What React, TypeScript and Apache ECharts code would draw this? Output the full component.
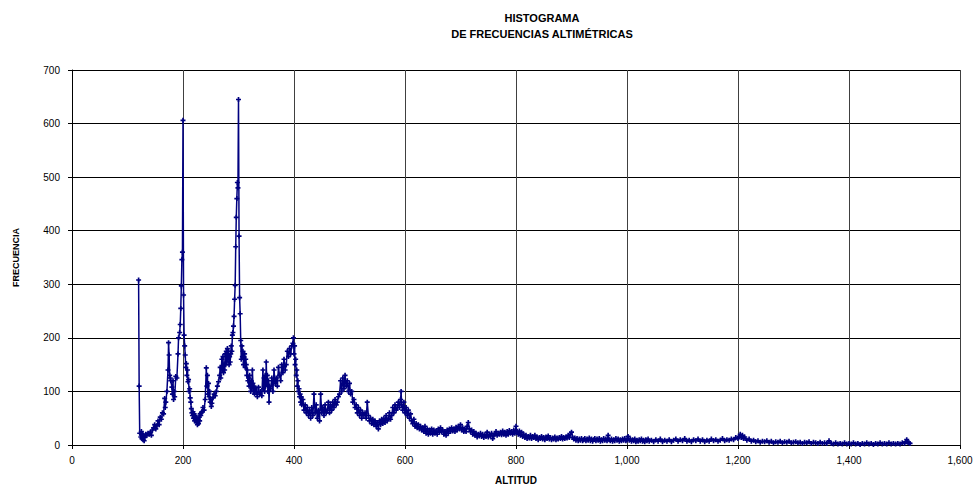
import React, { useEffect, useRef } from "react";
import * as echarts from "echarts";

// [altitud, frecuencia] pairs
const lowStart: [number, number][] = [
  [120, 308], [121, 110], [122, 22], [124, 15], [125, 25], [126, 12], [127, 20], [128, 10], [129, 18], [130, 8],
  [131, 14], [133, 20], [135, 18], [137, 22], [139, 20], [141, 24], [143, 18], [145, 28], [147, 32], [149, 38],
  [151, 30], [153, 36], [155, 45], [157, 38], [159, 52], [161, 48], [163, 60], [165, 58], [167, 87], [168, 70],
  [169, 80], [171, 100], [173, 140], [174, 191], [175, 168], [176, 130], [177, 125], [178, 120], [180, 108], [181, 95],
  [182, 120], [183, 85], [184, 100], [185, 90], [187, 128], [189, 125], [191, 170], [192, 200], [194, 210], [195, 225],
];

const peak200: [number, number][] = [
  [196, 255], [197, 297], [198, 346], [199, 360], [200, 606], [201, 280], [202, 205], [203, 185], [204, 168], [205, 145],
  [206, 152], [207, 130], [208, 140], [209, 118], [210, 122], [211, 100], [212, 105], [213, 88], [214, 80], [215, 68],
  [216, 60], [217, 55], [218, 62], [219, 50], [220, 58], [221, 45], [222, 55], [223, 48], [224, 42], [225, 50],
  [226, 38], [227, 48], [228, 40], [229, 52], [230, 45], [231, 58], [232, 55], [233, 60], [234, 62], [236, 70],
  [238, 65], [240, 85], [242, 144], [243, 110], [244, 130], [245, 95], [246, 115], [247, 90], [248, 100], [249, 80],
  [250, 85], [251, 72], [252, 78], [254, 88], [256, 95], [258, 92], [260, 100], [262, 110], [264, 118],
];

const peak300: [number, number][] = [
  [266, 130], [267, 145], [268, 125], [270, 160], [271, 140], [272, 165], [273, 135], [274, 150], [275, 140], [276, 170],
  [277, 150], [278, 175], [279, 155], [280, 180], [281, 160], [282, 175], [283, 150], [284, 165], [285, 155], [286, 170],
  [287, 185], [288, 175], [289, 205], [290, 210], [291, 222], [292, 240], [293, 272], [294, 298], [295, 370], [296, 425],
  [297, 460], [298, 490], [299, 480], [300, 645], [301, 390], [302, 275], [303, 245], [304, 195], [305, 160], [306, 185],
  [307, 165], [308, 175], [309, 150], [310, 165],
];

const range300to400: [number, number][] = [
  [311, 170], [312, 145], [313, 160], [314, 150], [315, 130], [316, 140], [317, 120], [318, 125], [319, 110], [320, 130],
  [321, 115], [322, 100], [323, 120], [324, 105], [325, 140], [326, 115], [327, 100], [328, 110], [329, 95], [330, 105],
  [332, 100], [334, 90], [336, 108], [338, 95], [340, 100], [342, 92], [344, 140], [345, 105], [346, 125], [347, 100],
  [348, 130], [349, 110], [350, 155], [351, 115], [352, 130], [353, 100], [354, 120], [355, 80], [356, 110], [358, 105],
  [360, 125], [362, 100], [364, 140], [366, 115], [368, 125], [370, 110], [372, 145], [374, 130], [376, 120], [378, 150],
  [380, 135], [382, 160], [384, 140], [386, 150], [388, 175], [390, 165], [392, 180], [394, 170], [396, 185], [398, 190],
  [399, 200], [400, 170],
];

const range400to632: [number, number][] = [
  [401, 185], [402, 150], [403, 160], [404, 130], [405, 140], [406, 110], [407, 120], [408, 100], [409, 105], [410, 90],
  [411, 95], [412, 80], [413, 90], [414, 75], [416, 85], [418, 65], [420, 75], [422, 60], [424, 70], [426, 55],
  [428, 65], [430, 50], [432, 70], [434, 55], [436, 95], [438, 60], [440, 75], [442, 50], [444, 65], [446, 45],
  [448, 95], [450, 60], [452, 70], [454, 55], [456, 75], [458, 60], [460, 65], [462, 80], [464, 60], [466, 75],
  [468, 65], [470, 80], [472, 70], [474, 85], [476, 75], [478, 80], [480, 90], [482, 95], [484, 120], [486, 100],
  [488, 125], [490, 105], [492, 130], [494, 110], [496, 120], [498, 100], [500, 115], [502, 95], [504, 100], [506, 80],
  [508, 85], [510, 70], [512, 75], [514, 60], [516, 70], [518, 55], [520, 65], [522, 50], [524, 60], [526, 55],
  [528, 60], [530, 50], [532, 80], [534, 55], [536, 45], [538, 50], [540, 40], [542, 48], [544, 38], [546, 45],
  [548, 35], [550, 42], [552, 30], [554, 45], [556, 38], [558, 48], [560, 40], [562, 50], [564, 42], [566, 55],
  [568, 45], [570, 50], [572, 60], [574, 48], [576, 55], [578, 70], [580, 60], [582, 75], [584, 65], [586, 70],
  [588, 80], [590, 70], [592, 85], [593, 100], [594, 75], [596, 65], [598, 80], [600, 60], [602, 70], [604, 55],
  [606, 65], [608, 50], [610, 58], [612, 45], [614, 40], [616, 48], [618, 35], [620, 40], [622, 32], [624, 38],
  [626, 30], [628, 35], [630, 28], [632, 32],
];

const range634to922: [number, number][] = [
  [634, 25], [636, 35], [638, 22], [640, 30], [642, 20], [644, 28], [646, 22], [648, 30], [650, 20], [652, 28],
  [654, 22], [656, 26], [658, 20], [660, 30], [662, 24], [664, 32], [666, 25], [668, 28], [670, 20], [672, 25],
  [674, 18], [676, 28], [678, 22], [680, 30], [682, 25], [684, 32], [686, 26], [688, 30], [690, 25], [692, 33],
  [694, 28], [696, 35], [698, 30], [700, 38], [702, 28], [704, 32], [706, 25], [708, 30], [710, 25], [712, 35],
  [714, 42], [716, 30], [718, 25], [720, 28], [722, 20], [724, 25], [726, 18], [728, 22], [730, 15], [732, 20],
  [734, 17], [736, 22], [738, 16], [740, 20], [742, 14], [744, 19], [746, 16], [748, 24], [750, 15], [752, 20],
  [754, 17], [756, 22], [758, 12], [760, 18], [762, 20], [764, 25], [766, 18], [768, 22], [770, 20], [772, 24],
  [774, 19], [776, 26], [778, 20], [780, 24], [782, 18], [784, 25], [786, 20], [788, 27], [790, 22], [792, 25],
  [794, 20], [796, 28], [798, 22], [800, 35], [802, 25], [804, 20], [806, 26], [808, 18], [810, 24], [812, 16],
  [814, 20], [816, 14], [818, 18], [820, 12], [822, 16], [824, 13], [826, 18], [828, 12], [830, 16], [832, 14],
  [834, 18], [836, 12], [838, 15], [840, 10], [842, 14], [844, 12], [846, 16], [848, 11], [850, 14], [852, 10],
  [854, 15], [856, 12], [858, 17], [860, 11], [862, 14], [864, 10], [866, 13], [868, 11], [870, 15], [872, 10],
  [874, 13], [876, 11], [878, 14], [880, 12], [882, 16], [884, 11], [886, 14], [888, 12], [890, 15], [892, 13],
  [894, 18], [896, 14], [898, 20], [900, 24], [902, 14], [904, 11], [906, 13], [908, 9], [910, 12], [912, 8],
  [914, 11], [916, 9], [918, 12], [920, 8], [922, 10],
];

const range924to1040: [number, number][] = [
  [924, 12], [926, 8], [928, 11], [930, 9], [932, 13], [934, 8], [936, 11], [938, 7], [940, 10], [942, 12],
  [944, 8], [946, 11], [948, 9], [950, 12], [952, 7], [954, 10], [956, 8], [958, 12], [960, 9], [962, 11],
  [964, 8], [966, 18], [968, 10], [970, 8], [972, 11], [974, 7], [976, 10], [978, 8], [980, 12], [982, 9],
  [984, 11], [986, 7], [988, 10], [990, 8], [992, 11], [994, 9], [996, 12], [998, 8], [1000, 10], [1002, 16],
  [1004, 9], [1006, 11], [1008, 7], [1010, 10], [1012, 8], [1014, 11], [1016, 6], [1018, 9], [1020, 7], [1022, 10],
  [1024, 8], [1026, 11], [1028, 7], [1030, 9], [1032, 6], [1034, 10], [1036, 8], [1038, 11], [1040, 7],
];

const tail: [number, number][] = [
  [1044, 9], [1048, 6], [1052, 10], [1056, 7], [1060, 11], [1064, 6], [1068, 9], [1072, 7], [1076, 10], [1080, 6],
  [1084, 9], [1088, 11], [1092, 7], [1096, 10], [1100, 8], [1104, 12], [1108, 7], [1112, 9], [1116, 6], [1120, 10],
  [1124, 8], [1128, 11], [1132, 7], [1136, 10], [1140, 6], [1144, 9], [1148, 7], [1152, 11], [1156, 8], [1160, 10],
  [1164, 7], [1168, 9], [1172, 12], [1176, 8], [1180, 10], [1184, 9], [1188, 11], [1192, 10], [1196, 14], [1200, 12],
  [1202, 16], [1204, 20], [1206, 14], [1208, 18], [1210, 12], [1212, 15], [1216, 9], [1220, 11], [1224, 7], [1228, 9],
  [1232, 6], [1236, 8], [1240, 5], [1244, 7], [1248, 6], [1252, 8], [1256, 5], [1260, 7], [1264, 4], [1268, 6],
  [1272, 5], [1276, 7], [1280, 4], [1284, 6], [1288, 5], [1292, 7], [1296, 4], [1300, 5], [1304, 6], [1308, 4],
  [1312, 5], [1316, 3], [1320, 5], [1324, 4], [1328, 6], [1332, 3], [1336, 5], [1340, 4], [1344, 3], [1348, 5],
  [1352, 3], [1356, 4], [1360, 3], [1364, 8], [1368, 3], [1372, 2], [1376, 4], [1380, 2], [1384, 3], [1388, 2],
  [1392, 4], [1396, 2], [1400, 3], [1404, 2], [1408, 4], [1412, 2], [1416, 3], [1420, 1], [1424, 3], [1428, 2],
  [1432, 4], [1436, 2], [1440, 3], [1444, 1], [1448, 3], [1452, 2], [1456, 4], [1460, 2], [1464, 3], [1468, 2],
  [1472, 4], [1476, 2], [1480, 3], [1484, 2], [1488, 3], [1492, 2], [1496, 4], [1500, 3], [1502, 6], [1504, 10],
  [1506, 5], [1508, 4], [1510, 3],
];

const X_MIN = 0;
const X_MAX = 1600;
const X_STEP = 200;
const Y_MIN = 0;
const Y_MAX = 700;
const Y_STEP = 100;

const TITLE = "HISTOGRAMA\nDE FRECUENCIAS ALTIMÉTRICAS";
const X_NAME = "ALTITUD";
const Y_NAME = "FRECUENCIA";

const FONT = "'Liberation Sans', Arial, sans-serif";
const NAVY = "#000080";

export default function App() {
  const ref = useRef<HTMLDivElement>(null);

  useEffect(() => {
    if (!ref.current) return;
    const chart = echarts.init(ref.current, null, { renderer: "svg" });
    const data = [
      ...lowStart,
      ...peak200,
      ...peak300,
      ...range300to400,
      ...range400to632,
      ...range634to922,
      ...range924to1040,
      ...tail,
    ];
    chart.setOption({
      animation: false,
      backgroundColor: "#ffffff",
      title: {
        text: TITLE,
        left: 537,
        top: 5,
        textAlign: "center",
        textStyle: {
          fontFamily: FONT,
          fontSize: 11,
          fontWeight: "bold",
          color: "#000",
          lineHeight: 16,
        },
      },
      grid: { left: 72, right: 19, top: 70, bottom: 43 },
      xAxis: {
        type: "value",
        min: X_MIN,
        max: X_MAX,
        interval: X_STEP,
        name: X_NAME,
        nameLocation: "middle",
        nameGap: 30,
        nameTextStyle: { fontFamily: FONT, fontSize: 10, fontWeight: "bold", color: "#000" },
        axisLine: { show: true, lineStyle: { color: "#000", width: 1 } },
        axisTick: { show: true, length: 4, lineStyle: { color: "#000" } },
        axisLabel: {
          fontFamily: FONT,
          fontSize: 10,
          color: "#000",
          margin: 10,
          formatter: (v: number) => v.toLocaleString("en-US"),
        },
        splitLine: { show: true, lineStyle: { color: "#404040", width: 1 } },
      },
      yAxis: {
        type: "value",
        min: Y_MIN,
        max: Y_MAX,
        interval: Y_STEP,
        name: Y_NAME,
        nameLocation: "middle",
        nameGap: 52,
        nameRotate: 90,
        nameTextStyle: { fontFamily: FONT, fontSize: 9, fontWeight: "bold", color: "#000" },
        axisLine: { show: true, lineStyle: { color: "#000", width: 1 } },
        axisTick: { show: true, length: 4, lineStyle: { color: "#000" } },
        axisLabel: { fontFamily: FONT, fontSize: 10, color: "#000", margin: 12 },
        splitLine: { show: true, lineStyle: { color: "#000", width: 1 } },
      },
      series: [
        {
          type: "line",
          data,
          showAllSymbol: true,
          symbol: "path://M2,0H4V2H6V4H4V6H2V4H0V2H2Z",
          symbolSize: 5,
          itemStyle: { color: NAVY },
          lineStyle: { color: NAVY, width: 1.5 },
          emphasis: { disabled: true },
        },
      ],
    });
    return () => chart.dispose();
  }, []);

  return (
    <div
      ref={ref}
      style={{ position: "absolute", left: 0, top: 0, width: 979, height: 490 }}
    />
  );
}
